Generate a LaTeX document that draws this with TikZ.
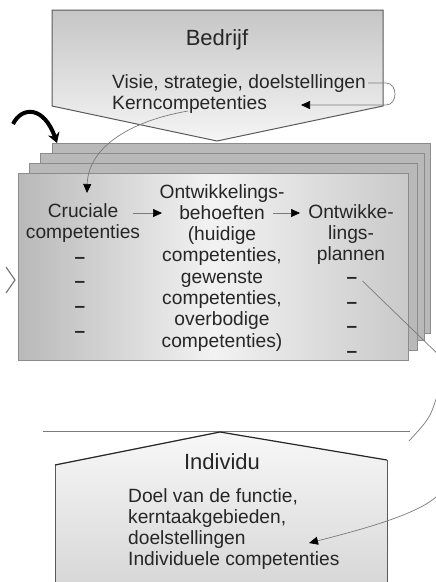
\documentclass[tikz,border=0pt]{standalone}
\usepackage{fontspec}
\setmainfont{Liberation Sans}
\usetikzlibrary{arrows.meta,calc}
\definecolor{txt}{HTML}{262626}
\definecolor{edge}{HTML}{5A5A5A}
\definecolor{pageback}{HTML}{B9B9B9}
\definecolor{pageedge}{HTML}{8C8C8C}
\definecolor{conncol}{HTML}{7A7A7A}
\begin{document}
\begin{tikzpicture}[x=1pt,y=-1pt,
  body/.style={font=\fontsize{19.2}{21.3}\selectfont, text=txt, inner sep=0pt},
  title/.style={font=\fontsize{22}{24}\selectfont, text=txt, inner sep=0pt},
  dashmark/.style={font=\fontsize{19}{21}\selectfont\bfseries, text=txt, inner sep=0pt, anchor=base},
  page/.style={fill=pageback, draw=pageedge, line width=0.8pt},
  thinconn/.style={draw=conncol, line width=0.7pt},
  tip/.style={-{Triangle[length=9pt,width=8pt,color=black]}},
]
\useasboundingbox (0,0) rectangle (436,582);
\fill[white] (0,0) rectangle (436,582);

% stack of pages
\path[page] (52,143) rectangle (430,333);
\path[page] (40,153) rectangle (424,340);
\path[page] (29,163) rectangle (417,350);
\shade[left color=gray!55, right color=gray!42, middle color=gray!10] (18,173) rectangle (408,360);
\draw[pageedge, line width=0.8pt] (18,173) rectangle (408,360);

% top block (Bedrijf)
\shade[top color=gray!45, bottom color=gray!8] (52,10) -- (383,10) -- (383,106) -- (217,141) -- (52,106) -- cycle;
\draw[edge, line width=1pt] (52,10) -- (383,10) -- (383,106) -- (217,141) -- (52,106) -- cycle;
\node[title] (bedrijf) at (217,40) {Bedrijf};
% base anchor of a multi-line node = baseline of its last line
\node[body, anchor=base west, align=left] (visie) at (112,109.3) {Visie, strategie, doelstellingen\\Kerncompetenties};

% bottom block (Individu)
\draw[conncol, line width=1pt] (43,431) -- (410,431);
\shade[top color=gray!6, bottom color=gray!32] (55,465) -- (220,432) -- (387,460) -- (387,590) -- (55,590) -- cycle;
\draw[edge, line width=0.8pt] (55,590) -- (55,465);
\draw[edge, line width=0.8pt] (387,460) -- (387,590);
\draw[black!85, line width=1.2pt] (55,465) -- (220,432) -- (387,460);
\node[title] (individu) at (222,462) {Individu};
\node[body, anchor=base west, align=left] (doel) at (128,565.9) {Doel van de functie,\\kerntaakgebieden,\\doelstellingen\\Individuele competenties};

% front page contents
\node[body, anchor=base, align=center] (cruc) at (83,238.3) {Cruciale\\competenties};
\node[body, anchor=base, align=center] (behoef) at (222,347.1) {Ontwikkelings-\\behoeften\\(huidige\\competenties,\\gewenste\\competenties,\\overbodige\\competenties)};
\node[body, anchor=base, align=center] (plan) at (351,260.6) {Ontwikke-\\lings-\\plannen};

\node[dashmark] (ld1) at (80,263) {–};
\node[dashmark] (ld2) at (80,287) {–};
\node[dashmark] (ld3) at (80,312) {–};
\node[dashmark] (ld4) at (80,337) {–};
\node[dashmark] (rd1) at (352,283) {–};
\node[dashmark] (rd2) at (352,308) {–};
\node[dashmark] (rd3) at (352,332) {–};
\node[dashmark] (rd4) at (352,357) {–};

% connectors between columns
\coordinate (a1s) at (133,213);
\coordinate (a1e) at (162,213);
\coordinate (a2s) at (273,213);
\coordinate (a2e) at (300,213);
\draw[thinconn, tip] (a1s) -- (a1e);
\draw[thinconn, tip] (a2s) -- (a2e);

% loop at the top block
\coordinate (vend) at (368,83);
\coordinate (kend) at (301,105);
\draw[thinconn, tip] (vend) -- (386,83) .. controls (398,83) and (398,105) .. (386,105) -- (kend);

% from Kerncompetenties to Cruciale competenties
\coordinate (kstart) at (188,111);
\coordinate (ctop) at (87,193);
\draw[thinconn, tip] (kstart) .. controls (125,122) and (88,150) .. (ctop);

% thick black arrow at the left
\coordinate (bs) at (13,124);
\coordinate (be) at (57,143);
\draw[black, line width=4pt, -{Stealth[length=10pt,width=12pt]}] (bs) .. controls (22,106) and (44,106) .. (be);

% chevron at the left
\coordinate (chev) at (15,280);
\draw[conncol, line width=1.2pt] (6,267) -- (chev) -- (6,293);

% right-hand connectors
\coordinate (exit1) at (446,362);
\draw[thinconn] ([xshift=5pt,yshift=-1pt]rd1.east) -- (exit1);
\coordinate (arcin) at (437,396);
\coordinate (arcout) at (409,441);
\draw[thinconn] (arcin) .. controls (430,418) .. (arcout);
\coordinate (bin) at (438,495);
\coordinate (bend) at (309,543);
\draw[thinconn, tip] (bin) .. controls (420,514) and (360,530) .. (bend);
\end{tikzpicture}
\end{document}
